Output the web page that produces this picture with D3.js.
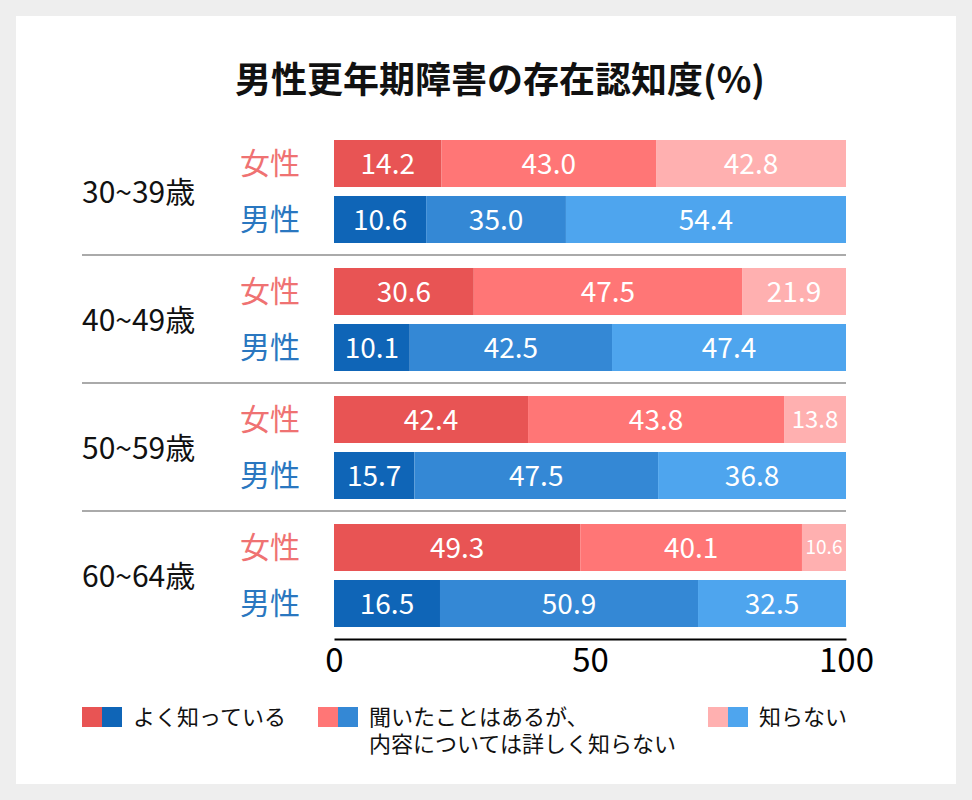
<!DOCTYPE html>
<meta charset="utf-8">
<html>
<head>
<title>男性更年期障害の存在認知度</title>
<style>
  body { margin: 0; background: #eeeeee; }
  text { font-family: "Noto Sans CJK JP", "Noto Sans", sans-serif; }
</style>
</head>
<body>
<div id="chartContainer"></div>
<script src="https://d3js.org/d3.v7.min.js"></script>
<script type="text/javascript">

  // age groups and sexes
  var ages = ["30~39歳", "40~49歳", "50~59歳", "60~64歳"];
  var sexes = ["女性", "男性"];
  var answers = ["よく知っている", "聞いたことはあるが、\n内容については詳しく知らない", "知らない"];

  // printed values (%)
  var femaleKnow  = [14.2, 30.6, 42.4, 49.3];
  var femaleHeard = [43.0, 47.5, 43.8, 40.1];
  var femaleNot   = [42.8, 21.9, 13.8, 10.6];
  var maleKnow    = [10.6, 10.1, 15.7, 16.5];
  var maleHeard   = [35.0, 42.5, 47.5, 50.9];
  var maleNot     = [54.4, 47.4, 36.8, 32.5];

  // bar lengths as drawn in the picture (not exactly proportional to the labels)
  var femaleKnowBar  = [21.0, 27.3, 37.9, 48.1];
  var femaleHeardBar = [41.9, 52.4, 50.0, 43.3];
  var femaleNotBar   = [37.1, 20.3, 12.1, 8.6];
  var maleKnowBar    = [18.0, 14.8, 15.7, 20.7];
  var maleHeardBar   = [27.3, 39.5, 47.6, 50.4];
  var maleNotBar     = [54.7, 45.7, 36.7, 28.9];

  var xTicks = [0, 50, 100];

  var femaleColors = ["#e85454", "#ff7676", "#ffb0b0"];
  var maleColors   = ["#0f65b7", "#3488d5", "#4ea5ee"];
  var sexLabelColors = { "女性": "#ef7272", "男性": "#2a77c0" };

  // build rows: one per age x sex
  var rows = [];
  ages.forEach(function (a, i) {
    rows.push({ age: a, sex: "女性", colors: femaleColors,
      bars: [femaleKnowBar[i], femaleHeardBar[i], femaleNotBar[i]],
      labels: [femaleKnow[i], femaleHeard[i], femaleNot[i]] });
    rows.push({ age: a, sex: "男性", colors: maleColors,
      bars: [maleKnowBar[i], maleHeardBar[i], maleNotBar[i]],
      labels: [maleKnow[i], maleHeard[i], maleNot[i]] });
  });

  var width = 972, height = 800;
  var svg = d3.select("#chartContainer").append("svg")
    .attr("width", width)
    .attr("height", height);

  // white card
  svg.append("rect")
    .attr("x", 16).attr("y", 16)
    .attr("width", 940).attr("height", 768)
    .attr("fill", "#ffffff");

  // title
  svg.append("text")
    .attr("x", 500)
    .attr("y", 93)
    .attr("text-anchor", "middle")
    .style("font-size", "36px")
    .style("font-weight", "bold")
    .attr("fill", "#111")
    .text("男性更年期障害の存在認知度(%)");

  var x = d3.scaleLinear().domain([0, 100]).range([334, 846]);
  var yAge = d3.scaleBand().domain(ages).range([134, 134 + 128 * ages.length]);
  var ySex = d3.scaleBand().domain(sexes).range([6, 109]).paddingInner(9 / 56);

  // separators between age groups
  svg.selectAll(".sep")
    .data(ages.slice(0, -1))
    .enter()
    .append("line")
      .attr("x1", 82)
      .attr("x2", x(100))
      .attr("y1", function (d) { return yAge(d) + 121; })
      .attr("y2", function (d) { return yAge(d) + 121; })
      .attr("stroke", "#aaaaaa")
      .attr("stroke-width", 2);

  // age labels
  svg.selectAll(".ageLabel")
    .data(ages)
    .enter()
    .append("text")
      .attr("x", 82)
      .attr("y", function (d) { return yAge(d) + ySex("男性") - 4; })
      .attr("dy", "0.36em")
      .style("font-size", "30px")
      .attr("fill", "#111")
      .text(function (d) { return d; });

  var rowG = svg.selectAll(".row")
    .data(rows)
    .enter()
    .append("g")
      .attr("transform", function (d) {
        return "translate(0," + (yAge(d.age) + ySex(d.sex)) + ")";
      });

  // sex labels
  rowG.append("text")
    .attr("x", 270)
    .attr("y", ySex.bandwidth() / 2)
    .attr("dy", "0.36em")
    .attr("text-anchor", "middle")
    .style("font-size", "30px")
    .attr("fill", function (d) { return sexLabelColors[d.sex]; })
    .text(function (d) { return d.sex; });

  // stacked segments
  var seg = rowG.selectAll(".seg")
    .data(function (d) {
      var start = 0;
      return d.bars.map(function (v, j) {
        var s = { x0: start, x1: start + v, color: d.colors[j], label: d.labels[j] };
        start += v;
        return s;
      });
    })
    .enter();

  seg.append("rect")
    .attr("x", function (d) { return x(d.x0); })
    .attr("width", function (d) { return x(d.x1) - x(d.x0); })
    .attr("height", ySex.bandwidth())
    .attr("fill", function (d) { return d.color; });

  // labels shrink in the narrow segments
  seg.append("text")
    .attr("x", function (d) { return (x(d.x0) + x(d.x1)) / 2; })
    .attr("y", ySex.bandwidth() / 2)
    .attr("dy", "0.36em")
    .attr("text-anchor", "middle")
    .attr("fill", "#ffffff")
    .style("font-size", function (d) {
      var w = x(d.x1) - x(d.x0);
      if (w < 50) return "19px";
      if (w < 70) return "24px";
      return "28px";
    })
    .text(function (d) { return d.label.toFixed(1); });

  // x axis
  var xAxis = d3.axisBottom(x).tickValues(xTicks).tickSize(0).tickPadding(10);
  var axisG = svg.append("g")
    .attr("transform", "translate(0," + (yAge(ages[3]) + 121) + ")")
    .call(xAxis);
  axisG.select(".domain").attr("stroke", "#000").attr("stroke-width", 2);
  axisG.selectAll("text")
    .style("font-size", "33px")
    .style("font-family", "'Noto Sans CJK JP', sans-serif")
    .attr("fill", "#000");

  // legend
  var legendX = [82, 318, 708];
  var legend = svg.selectAll(".legend")
    .data(answers)
    .enter()
    .append("g")
      .attr("transform", function (d, i) { return "translate(" + legendX[i] + ",707)"; });

  legend.append("rect")
    .attr("width", 20).attr("height", 20)
    .attr("fill", function (d, i) { return femaleColors[i]; });
  legend.append("rect")
    .attr("x", 20)
    .attr("width", 20).attr("height", 20)
    .attr("fill", function (d, i) { return maleColors[i]; });

  legend.append("text")
    .attr("x", 51)
    .attr("y", 10)
    .style("font-size", "22px")
    .attr("fill", "#111")
    .selectAll("tspan")
    .data(function (d) { return d.split("\n"); })
    .enter()
    .append("tspan")
      .attr("x", 51)
      .attr("dy", function (d, i) { return i === 0 ? "0.36em" : "1.25em"; })
      .text(function (d) { return d; });

</script>
</body>
</html>
